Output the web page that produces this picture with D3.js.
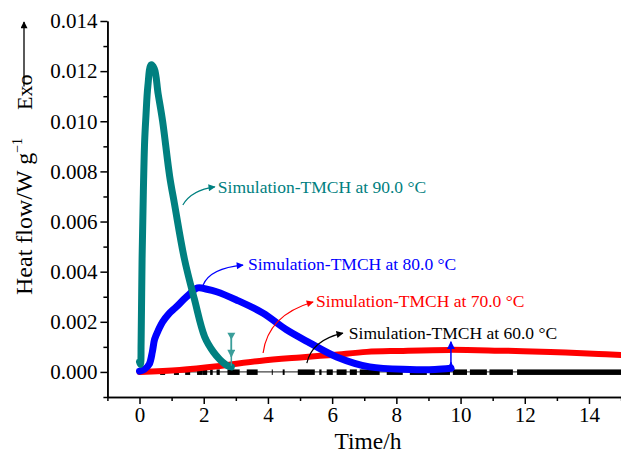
<!DOCTYPE html>
<html>
<head>
<meta charset="utf-8">
<script src="https://cdn.jsdelivr.net/npm/d3@7"></script>
<style>
  body { margin: 0; background: #fff; }
  svg { display: block; }
  svg text { font-family: 'Liberation Serif', 'Times New Roman', serif; }
</style>
</head>
<body>
<svg id="chart"></svg>
<script>
// ---- data ----
const time90 = [0, 0.03, 0.05, 0.08, 0.12, 0.16, 0.2, 0.26, 0.36, 0.46, 0.58, 0.72, 0.94, 1.09, 1.4, 1.71, 2.03, 2.3, 2.5, 2.74, 2.86];
const flow90 = [0.0004, 0.0003, 0.0012, 0.0045, 0.0072, 0.0092, 0.0102, 0.0114, 0.01225, 0.0121, 0.0111, 0.0100, 0.0078, 0.0067, 0.0045, 0.0029, 0.0014, 0.0008, 0.0005, 0.00025, 0.0002];

const time80 = [0, 0.15, 0.3, 0.4, 0.47, 0.6, 0.72, 0.9, 1.15, 1.47, 1.81, 2.1, 2.4, 3.02, 3.84, 4.58, 5.3, 6.14, 7.17, 8.42, 9.2, 9.7];
const flow80 = [0.00003, 0.0001, 0.0003, 0.0008, 0.0013, 0.0017, 0.002, 0.0023, 0.0026, 0.003, 0.00335, 0.0033, 0.0032, 0.00287, 0.00235, 0.00168, 0.00116, 0.0006, 0.0002, 0.0001, 0.0001, 0.00015];

const time70 = [0, 1.25, 2.5, 3.74, 5.0, 6.02, 7.08, 8.1, 9.67, 11.2, 12.8, 14.3, 15];
const flow70 = [0, 0.00008, 0.00024, 0.00044, 0.00058, 0.00068, 0.0008, 0.00084, 0.00088, 0.00085, 0.0008, 0.00072, 0.00068];

// 60 °C: runs of square markers sitting on zero (start / end time of each run)
const run60Start = [0.72, 1.15, 1.5, 1.87, 2.03, 2.2, 2.4, 2.74, 3.34, 4.12, 4.46, 4.93, 5.6, 5.83, 6.14, 6.55, 6.86, 7.7, 8.42, 9.04, 9.76, 10.29, 10.9, 11.76];
const run60End   = [0.72, 1.15, 1.5, 1.87, 2.03, 2.28, 2.5, 3.12, 3.68, 4.15, 4.52, 5.46, 5.67, 6.02, 6.45, 6.77, 7.48, 8.2, 8.95, 9.67, 10.2, 10.82, 11.63, 15];
const range60 = [0, 15];

// drop markers (time, low, high)
const drop90 = { t: 2.86, lo: 0.00025, hi: 0.00148, mid: 0.0006 };
const drop80 = { t: 9.7, lo: 0.00012, hi: 0.0012, mid: 0.00038 };

const labelText = ["Simulation-TMCH at 90.0 °C", "Simulation-TMCH at 80.0 °C", "Simulation-TMCH at 70.0 °C", "Simulation-TMCH at 60.0 °C"];
const labelTime = [2.44, 3.38, 5.5, 6.52];
const labelFlow = [0.00714, 0.00406, 0.00259, 0.00131];
const colors = ["#008080", "#0000ff", "#ff0000", "#000000"];

const xMajor = [0, 2, 4, 6, 8, 10, 12, 14];
const xMinor = [-1, 1, 3, 5, 7, 9, 11, 13, 15];
const yMajor = [0, 0.002, 0.004, 0.006, 0.008, 0.010, 0.012, 0.014];
const yMinor = [-0.001, 0.001, 0.003, 0.005, 0.007, 0.009, 0.011, 0.013];

const serif = "'Liberation Serif', 'Times New Roman', serif";

// ---- layout ----
const width = 621, height = 458;
const svg = d3.select("#chart").attr("width", width).attr("height", height)
    .attr("font-family", serif);

const x = d3.scaleLinear().domain([-1, 15]).range([107.4, 621.1]);
const y = d3.scaleLinear().domain([-0.001, 0.014]).range([397, 21]);

// arrowheads
const defs = svg.append("defs");
function arrowMarker(id, color, w, h) {
    defs.append("marker")
        .attr("id", id)
        .attr("viewBox", "0 0 10 10")
        .attr("refX", 9).attr("refY", 5)
        .attr("markerUnits", "userSpaceOnUse")
        .attr("markerWidth", w).attr("markerHeight", h)
        .attr("orient", "auto")
        .append("path")
        .attr("d", "M0,0 L10,5 L0,10 Z")
        .attr("fill", color);
}
colors.forEach((c, i) => arrowMarker("arr" + i, c, 11, 7));
arrowMarker("arrAxis", "#000", 10, 7);
arrowMarker("arrDrop0", "#3a9e9a", 9, 8);
arrowMarker("arrDrop1", "#0000ff", 9, 8);

// ---- axes ----
function styleAxis(g) {
    g.attr("font-family", serif);
    g.select(".domain").attr("stroke", "#000").attr("stroke-width", 1.5);
    g.selectAll(".tick line").attr("stroke", "#000").attr("stroke-width", 1.5);
    g.selectAll(".tick text").attr("font-size", 21).attr("fill", "#000");
}

svg.append("g")
    .attr("transform", `translate(0,${y(-0.001)})`)
    .call(d3.axisBottom(x).tickValues(xMinor).tickSize(4).tickSizeOuter(0).tickFormat(""))
    .call(styleAxis);
svg.append("g")
    .attr("transform", `translate(0,${y(-0.001)})`)
    .call(d3.axisBottom(x).tickValues(xMajor).tickSize(7).tickPadding(3).tickSizeOuter(0).tickFormat(d3.format("d")))
    .call(styleAxis);

svg.append("g")
    .attr("transform", `translate(${x(-1)},0)`)
    .call(d3.axisLeft(y).tickValues(yMinor).tickSize(4).tickSizeOuter(0).tickFormat(""))
    .call(styleAxis);
svg.append("g")
    .attr("transform", `translate(${x(-1)},0)`)
    .call(d3.axisLeft(y).tickValues(yMajor).tickSize(7).tickPadding(3).tickSizeOuter(0).tickFormat(d3.format(".3f")))
    .call(styleAxis);

// axis titles
svg.append("text")
    .attr("x", 368).attr("y", 449)
    .attr("text-anchor", "middle")
    .attr("font-size", 23.5)
    .text("Time/h");

const yTitle = svg.append("text")
    .attr("transform", "translate(32,295) rotate(-90)")
    .attr("font-size", 24);
yTitle.append("tspan").text("Heat flow/W g");
yTitle.append("tspan").attr("dy", -10).attr("font-size", 14).text("\u22121");
yTitle.append("tspan").attr("dy", 10).attr("dx", 28).attr("font-size", 22).text("Exo");
const yTitleLen = yTitle.node().getComputedTextLength();
svg.append("line")
    .attr("x1", 24).attr("x2", 24)
    .attr("y1", 295 - yTitleLen - 16).attr("y2", 22)
    .attr("stroke", "#000").attr("stroke-width", 1.3)
    .attr("marker-end", "url(#arrAxis)");

// ---- series ----
const line = d3.line().x(d => x(d[0])).y(d => y(d[1])).curve(d3.curveCatmullRom.alpha(0.5));

// 60 °C baseline and marker runs
svg.append("line")
    .attr("x1", x(range60[0])).attr("x2", x(range60[1]))
    .attr("y1", y(0)).attr("y2", y(0))
    .attr("stroke", "#444").attr("stroke-width", 1.3);
svg.append("g").selectAll("rect")
    .data(d3.zip(run60Start, run60End))
    .join("rect")
    .attr("x", d => d[0] === d[1] ? x(d[0]) - 2.5 : x(d[0]))
    .attr("width", d => d[0] === d[1] ? 5 : x(d[1]) - x(d[0]))
    .attr("y", y(0) - 2.5)
    .attr("height", 5.5)
    .attr("fill", "#000");

const series = [
    { t: time70, v: flow70, c: colors[2], w: 6 },
    { t: time80, v: flow80, c: colors[1], w: 7 },
    { t: time90, v: flow90, c: colors[0], w: 7 }
];
series.forEach(s => {
    svg.append("path")
        .datum(d3.zip(s.t, s.v))
        .attr("fill", "none")
        .attr("stroke", s.c)
        .attr("stroke-width", s.w)
        .attr("stroke-linejoin", "round")
        .attr("stroke-linecap", "round")
        .attr("d", line);
});

// drop markers
// 90 °C: down-pointing cap on top, arrow down to the curve
svg.append("line")
    .attr("x1", x(drop90.t)).attr("x2", x(drop90.t))
    .attr("y1", y(drop90.hi)).attr("y2", y(drop90.lo))
    .attr("stroke", "#3a9e9a").attr("stroke-width", 1.5);
svg.append("path")
    .attr("d", `M${x(drop90.t) - 4},${y(drop90.hi) - 2} L${x(drop90.t) + 4},${y(drop90.hi) - 2} L${x(drop90.t)},${y(drop90.hi) + 5} Z`)
    .attr("fill", "#3a9e9a");
svg.append("line")
    .attr("x1", x(drop90.t)).attr("x2", x(drop90.t))
    .attr("y1", y(drop90.hi)).attr("y2", y(drop90.mid))
    .attr("stroke", "#3a9e9a").attr("stroke-width", 1.5)
    .attr("marker-end", "url(#arrDrop0)");

// 80 °C: arrow up
svg.append("line")
    .attr("x1", x(drop80.t)).attr("x2", x(drop80.t))
    .attr("y1", y(drop80.lo)).attr("y2", y(drop80.hi))
    .attr("stroke", "#0000ff").attr("stroke-width", 1.5)
    .attr("marker-end", "url(#arrDrop1)");
svg.append("line")
    .attr("x1", x(drop80.t)).attr("x2", x(drop80.t))
    .attr("y1", y(drop80.lo)).attr("y2", y(drop80.mid))
    .attr("stroke", "#0000ff").attr("stroke-width", 1.5)
    .attr("marker-end", "url(#arrDrop1)");

// ---- annotations ----
// curved pointer offsets relative to each label's start (px)
const pointer = [
    [[-35, 12], [-26, -3], [-3, -6]],
    [[-45, 15], [-38, -2], [-5, -5]],
    [[-53, 46], [-48, 8], [-3, -5]],
    [[-42, 24], [-37, 1], [-6, -6]]
];
labelText.forEach((txt, i) => {
    const lx = x(labelTime[i]), ly = y(labelFlow[i]);
    const p = pointer[i];
    svg.append("path")
        .attr("d", `M${lx + p[0][0]},${ly + p[0][1]} Q${lx + p[1][0]},${ly + p[1][1]} ${lx + p[2][0]},${ly + p[2][1]}`)
        .attr("fill", "none")
        .attr("stroke", colors[i])
        .attr("stroke-width", 1.2)
        .attr("marker-end", `url(#arr${i})`);
    svg.append("text")
        .attr("x", lx).attr("y", ly)
        .attr("font-size", 17.5)
        .attr("fill", colors[i])
        .text(txt);
});
</script>
</body>
</html>
